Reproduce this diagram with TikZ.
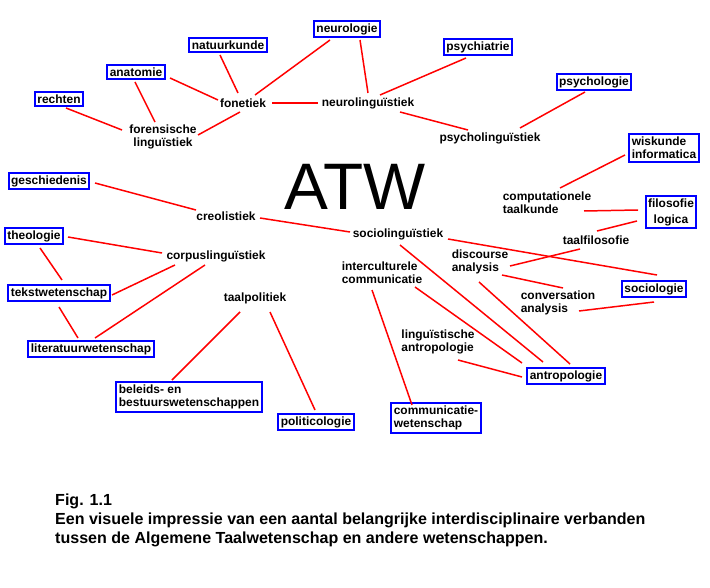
\documentclass[tikz,border=0pt]{standalone}
\usepackage{fontspec}
\setmainfont{Liberation Sans}
\begin{document}
\begin{tikzpicture}[x=1bp,y=-1bp,
  lbl/.style={font=\fontsize{12}{13.5}\selectfont\bfseries,align=center,inner sep=1pt},
  bx/.style={lbl,draw=blue,line width=2pt,fill=white,inner sep=2.5pt},
  ln/.style={red,line width=1.5pt}]
\useasboundingbox (0,0) rectangle (710,588);
\newcommand\lk[6]{\draw[ln] ([shift={(#2,#3)}]#1.center) -- ([shift={(#5,#6)}]#4.center);}
% boxes
\node[bx] (neurologie) at (347,29) {neurologie};
\node[bx] (natuurkunde) at (228,45) {natuurkunde};
\node[bx] (psychiatrie) at (478,47) {psychiatrie};
\node[bx] (anatomie) at (136,72) {anatomie};
\node[bx] (psychologie) at (594,82) {psychologie};
\node[bx] (rechten) at (59,99) {rechten};
\node[bx,align=left] (wiskunde) at (664,148) {wiskunde\\informatica};
\node[bx] (geschiedenis) at (49,181) {geschiedenis};
\node[bx,font=\fontsize{12}{16}\selectfont\bfseries] (filosofie) at (671,212) {filosofie\\logica};
\node[bx] (theologie) at (34,236) {theologie};
\node[bx] (sociologie) at (654,289) {sociologie};
\node[bx] (tekst) at (59,293) {tekstwetenschap};
\node[bx] (literatuur) at (91,349) {literatuurwetenschap};
\node[bx] (antropologie) at (566,376) {antropologie};
\node[bx,align=left] (beleids) at (189,397) {beleids- en\\bestuurswetenschappen};
\node[bx] (politicologie) at (316,422) {politicologie};
\node[bx,align=left] (communicatie) at (436,418) {communicatie-\\wetenschap};
% labels
\node[lbl] (fonetiek) at (243,103) {fonetiek};
\node[lbl] (neuroling) at (368,103) {neurolingu\"istiek};
\node[lbl] (forensisch) at (163,137) {forensische\\lingu\"istiek};
\node[lbl] (psycholing) at (490,138) {psycholingu\"istiek};
\node[font=\fontsize{66}{68}\selectfont,inner sep=0pt] (atw) at (355,187) {ATW};
\node[lbl,align=left] (comput) at (547,203) {computationele\\taalkunde};
\node[lbl] (creol) at (226,216) {creolistiek};
\node[lbl] (socioling) at (398,234) {sociolingu\"istiek};
\node[lbl] (taalfil) at (596,240) {taalfilosofie};
\node[lbl] (corpus) at (216,256) {corpuslingu\"istiek};
\node[lbl,align=left] (intercult) at (382,273) {interculturele\\communicatie};
\node[lbl,align=left] (discourse) at (480,262) {discourse\\analysis};
\node[lbl] (taalpol) at (255,298) {taalpolitiek};
\node[lbl,align=left] (convers) at (558,303) {conversation\\analysis};
\node[lbl,align=left] (lingantro) at (438,342) {lingu\"istische\\antropologie};
% connectors
\lk{fonetiek}{12}{-8}{neurologie}{-17}{11}
\lk{fonetiek}{-5}{-10}{natuurkunde}{-8}{10}
\lk{fonetiek}{-25}{-3}{anatomie}{34}{6}
\lk{fonetiek}{29}{0}{neuroling}{-50}{0}
\lk{fonetiek}{-3}{9}{forensisch}{35}{-2}
\lk{forensisch}{-8}{-15}{anatomie}{-1}{10}
\lk{forensisch}{-41}{-7}{rechten}{7}{9}
\lk{neuroling}{0}{-10}{neurologie}{13}{11}
\lk{neuroling}{12}{-8}{psychiatrie}{-12}{11}
\lk{neuroling}{32}{9}{psycholing}{-22}{-8}
\lk{psycholing}{30}{-10}{psychologie}{-9}{10}
\lk{geschiedenis}{46}{2}{creol}{-30}{-6}
\lk{creol}{34}{2}{socioling}{-48}{-2}
\lk{comput}{13}{-15}{wiskunde}{-39}{7}
\lk{comput}{37}{8}{filosofie}{-33}{-2}
\lk{taalfil}{1}{-9}{filosofie}{-34}{9}
\lk{taalfil}{-16}{9}{discourse}{30}{4}
\lk{socioling}{50}{5}{sociologie}{3}{-14}
\lk{discourse}{22}{13}{convers}{5}{-15}
\lk{discourse}{-1}{20}{antropologie}{4}{-12}
\lk{socioling}{2}{11}{antropologie}{-23}{-14}
\lk{intercult}{33}{14}{antropologie}{-44}{-13}
\lk{lingantro}{20}{18}{antropologie}{-44}{1}
\lk{convers}{21}{8}{sociologie}{0}{13}
\lk{intercult}{-10}{17}{communicatie}{-24}{-13}
\lk{theologie}{34}{1}{corpus}{-54}{-3}
\lk{theologie}{6}{12}{tekst}{3}{-13}
\lk{corpus}{-41}{9}{tekst}{53}{2}
\lk{corpus}{-11}{9}{literatuur}{4}{-11}
\lk{tekst}{0}{14}{literatuur}{-13}{-11}
\lk{taalpol}{-15}{14}{beleids}{-17}{-17}
\lk{taalpol}{15}{14}{politicologie}{-1}{-12}
% caption
\node[font=\fontsize{16.1}{19}\selectfont\bfseries,align=left,anchor=north west,inner sep=0pt] (cap) at (55,494)
 {Fig. 1.1\\Een visuele impressie van een aantal belangrijke interdisciplinaire verbanden\\tussen de Algemene Taalwetenschap en andere wetenschappen.};
\end{tikzpicture}
\end{document}
